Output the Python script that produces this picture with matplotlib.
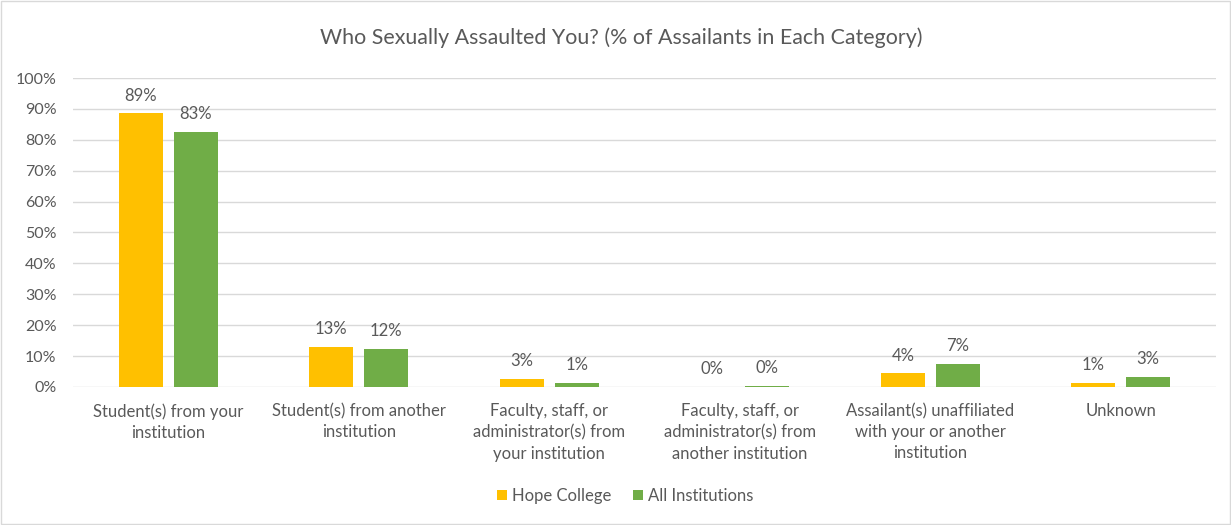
import numpy as np
import matplotlib
matplotlib.use("Agg")
import matplotlib.pyplot as plt
from matplotlib.patches import Rectangle

plt.rcParams['font.family'] = ['Lato', 'DejaVu Sans']

categories = ["Student(s) from your\ninstitution",
              "Student(s) from another\ninstitution",
              "Faculty, staff, or\nadministrator(s) from\nyour institution",
              "Faculty, staff, or\nadministrator(s) from\nanother institution",
              "Assailant(s) unaffiliated\nwith your or another\ninstitution",
              "Unknown"]
hope = [88.6, 13.0, 2.7, 0.0, 4.4, 1.4]
allinst = [82.6, 12.3, 1.4, 0.4, 7.4, 3.3]
yticks = [0, 10, 20, 30, 40, 50, 60, 70, 80, 90, 100]

txt = "#595959"
grid = "#D9D9D9"

fig = plt.figure(figsize=(12.31, 5.25), dpi=100)
fig.patches.append(Rectangle((0.001, 0.001), 0.998, 0.997, transform=fig.transFigure,
                             fill=False, edgecolor=grid, linewidth=1))
ax = fig.add_axes([0.0593, 0.2629, 0.9285, 0.5885])

x = np.arange(len(categories))
w = 0.231
off = 0.144
b1 = ax.bar(x - off, hope, w, color="#FFC000", label="Hope College", zorder=3)
b2 = ax.bar(x + off, allinst, w, color="#70AD47", label="All Institutions", zorder=3)

for bars, vals in [(b1, hope), (b2, allinst)]:
    for b, v in zip(bars, vals):
        ax.annotate("{:.0f}%".format(v), (b.get_x() + b.get_width() / 2, v),
                    xytext=(0, 7), textcoords="offset points",
                    ha="center", va="bottom", fontsize=12, color=txt)

ax.set_xlim(-0.5, len(categories) - 0.5)
ax.set_ylim(0, 100)
ax.set_yticks(yticks)
ax.set_yticklabels(["{}%".format(t) for t in yticks], fontsize=11.5, color=txt)
ax.set_xticks(x)
ax.set_xticklabels(categories, fontsize=12, color=txt, linespacing=1.4, va="top")
ax.tick_params(axis="both", length=0)
ax.tick_params(axis="y", pad=12)
ax.tick_params(axis="x", pad=11.5)
ax.grid(axis="y", color=grid, linewidth=1, zorder=0)
for s in ax.spines.values():
    s.set_visible(False)

fig.text(621 / 1231, 1 - 38 / 525,
         "Who Sexually Assaulted You? (% of Assailants in Each Category)",
         fontsize=15.4, color=txt, ha="center", va="center")

ax.legend(loc="center", ncol=2, frameon=False, fontsize=12, labelcolor=txt,
          handlelength=0.6, handleheight=0.6, handletextpad=0.3, columnspacing=1.3,
          bbox_to_anchor=(0.508, 1 - 496 / 525), bbox_transform=fig.transFigure)

fig.savefig("out.png", dpi=100)
